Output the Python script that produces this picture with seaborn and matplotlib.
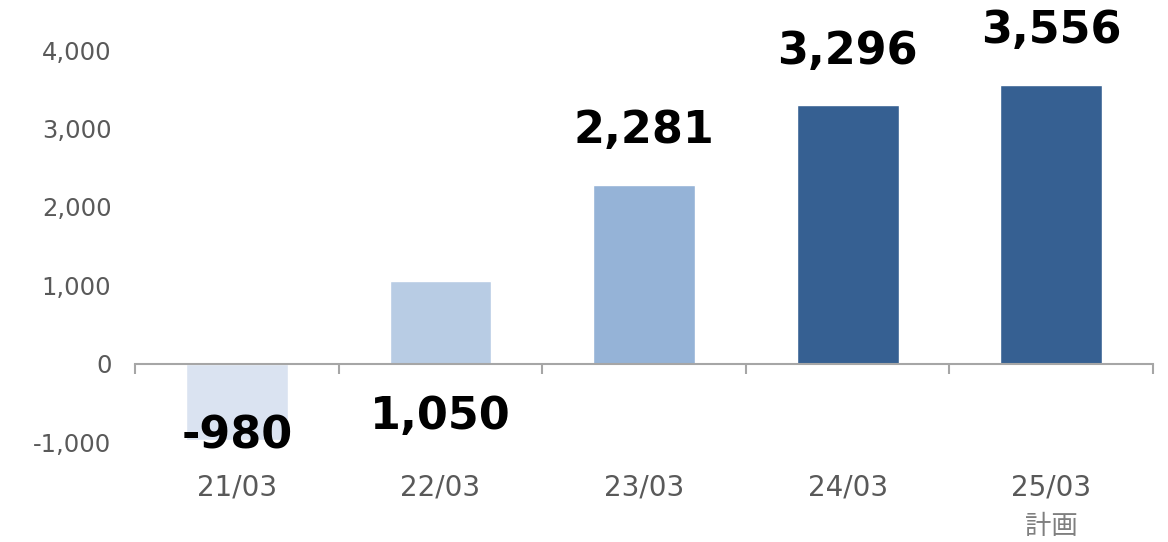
import seaborn as sns
import matplotlib.pyplot as plt
from matplotlib.ticker import FuncFormatter

periods = ['21/03', '22/03', '23/03', '24/03', '25/03']
values = [-980, 1050, 2281, 3296, 3556]
value_labels = ['-980', '1,050', '2,281', '3,296', '3,556']
bar_colors = ['#DAE3F1', '#B8CCE4', '#95B3D7', '#366092', '#366092']
plan_note = '計画'

sns.set_style('white')
plt.rcParams['font.family'] = ['DejaVu Sans', 'Noto Sans CJK JP']

fig = plt.figure(figsize=(11.68, 5.42), dpi=100)
ax = fig.add_axes([0.1156, 0.1845, 0.8716, 0.7232])

sns.barplot(x=periods, y=values, hue=periods, palette=bar_colors,
            legend=False, width=0.5, saturation=1, ax=ax)

ax.set_xlim(-0.5, 4.5)
ax.set_ylim(-1000, 4000)
ax.set_yticks(range(-1000, 4001, 1000))
ax.yaxis.set_major_formatter(FuncFormatter(lambda v, p: f'{v:,.0f}'))
ax.tick_params(axis='y', length=0, pad=17, labelsize=17.5, labelcolor='#595959')

for s in ['left', 'top', 'right']:
    ax.spines[s].set_visible(False)
ax.spines['bottom'].set_position(('data', 0))
ax.spines['bottom'].set_color('#A6A6A6')
ax.spines['bottom'].set_linewidth(1.5)

# category separators as major ticks, names as minor ticks
ax.set_xticks([i - 0.5 for i in range(len(periods) + 1)], labels=[])
ax.set_xticks(range(len(periods)), labels=periods, minor=True)
ax.tick_params(axis='x', which='major', bottom=True, direction='out',
               length=7.5, width=1.5, color='#A6A6A6')
ax.tick_params(axis='x', which='minor', bottom=True, length=0, pad=79,
               labelsize=20, labelcolor='#595959')
ax.set_xlabel('')
ax.set_ylabel('')

# label offsets (points) from the bar end
offsets = [3, -97, 39, 39, 39]
for i, (v, lab) in enumerate(zip(values, value_labels)):
    ax.annotate(lab, xy=(i, v), xytext=(0, offsets[i]), textcoords='offset points',
                ha='center', va='center', fontsize=32, fontweight='bold', color='black')

ax.annotate(plan_note, xy=(4, 0), xytext=(0, -117), textcoords='offset points',
            ha='center', va='center', fontsize=19, color='#7F7F7F',
            family=['Noto Sans CJK JP', 'DejaVu Sans'])

plt.savefig('out.png', dpi=100)
